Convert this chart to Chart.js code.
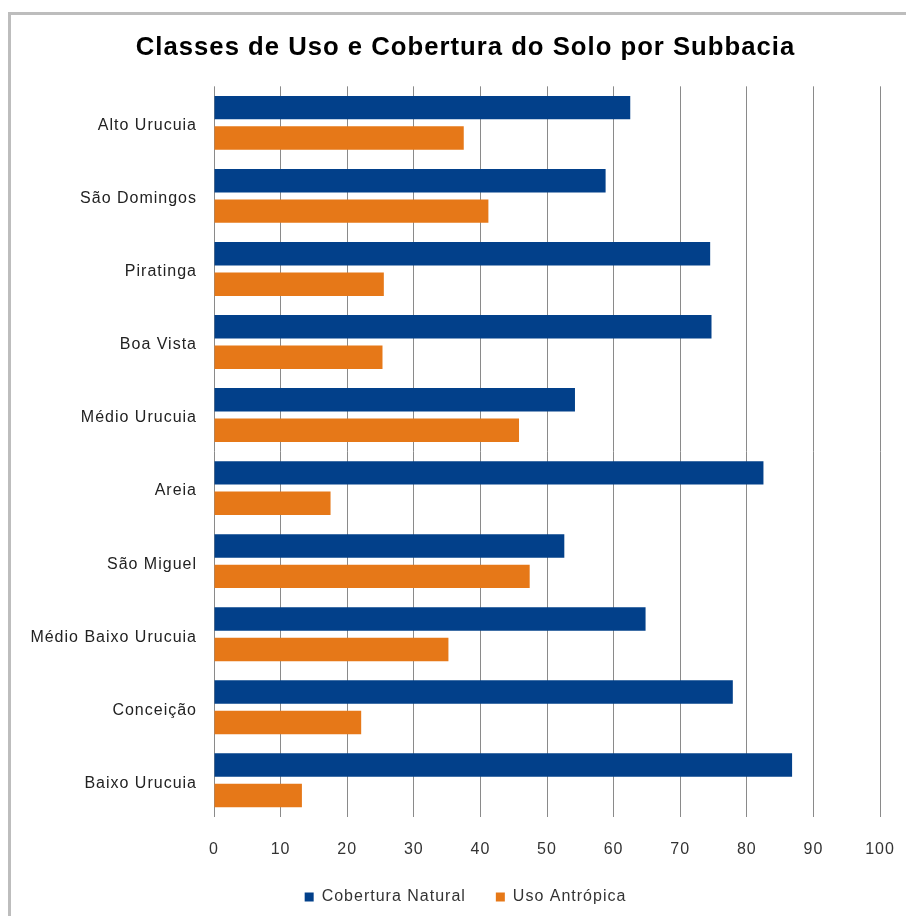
<!DOCTYPE html>
<html>
<head>
<meta charset="utf-8">
<script src="https://cdn.jsdelivr.net/npm/chart.js@4.4.1/dist/chart.umd.min.js"></script>
<style>
  html, body { margin: 0; padding: 0; background: #fff; }
  #wrap { position: relative; width: 906px; height: 916px; overflow: hidden; }
  #frame { position: absolute; left: 8px; top: 12px; width: 1000px; height: 1000px; border: 3px solid #bdbdbd; box-sizing: border-box; }
  #c { position: absolute; left: 0; top: 0; }
</style>
</head>
<body>
<div id="wrap">
  <div id="frame"></div>
  <canvas id="c" width="906" height="916"></canvas>
</div>
<script>
const categories = ["Alto Urucuia", "São Domingos", "Piratinga", "Boa Vista", "Médio Urucuia", "Areia", "São Miguel", "Médio Baixo Urucuia", "Conceição", "Baixo Urucuia"];
const coberturaNatural = [62.5, 58.8, 74.5, 74.7, 54.2, 82.5, 52.6, 64.8, 77.9, 86.8];
const usoAntropica = [37.5, 41.2, 25.5, 25.3, 45.8, 17.5, 47.4, 35.2, 22.1, 13.2];
const xTicks = [0, 10, 20, 30, 40, 50, 60, 70, 80, 90, 100];
const seriesNames = ["Cobertura Natural", "Uso Antrópica"];
const chartTitle = "Classes de Uso e Cobertura do Solo por Subbacia";

const spacing = {
  id: 'spacing',
  beforeUpdate(chart) { chart.ctx.letterSpacing = '1px'; },
  beforeLayout(chart) { chart.ctx.letterSpacing = '1px'; },
  afterLayout(chart) { chart.scales.y.left = 0; },
  beforeDraw(chart) { chart.ctx.letterSpacing = '1px'; }
};

new Chart(document.getElementById('c'), {
  type: 'bar',
  data: {
    labels: categories,
    datasets: [
      { label: seriesNames[0], data: coberturaNatural, backgroundColor: '#02408a', borderWidth: 0 },
      { label: seriesNames[1], data: usoAntropica, backgroundColor: '#e67818', borderWidth: 0 }
    ]
  },
  plugins: [spacing],
  options: {
    indexAxis: 'y',
    responsive: false,
    animation: false,
    devicePixelRatio: 1,
    categoryPercentage: 0.834,
    barPercentage: 0.77,
    layout: { padding: { left: 51, right: 26, top: 0, bottom: 1 } },
    plugins: {
      title: {
        display: true,
        text: chartTitle,
        color: '#000',
        font: { family: '"Liberation Sans", Arial, sans-serif', size: 25.7, weight: 'bold', lineHeight: 1.2 },
        padding: { top: 32, bottom: 23.5 }
      },
      legend: {
        display: true,
        position: 'bottom',
        labels: {
          boxWidth: 9, boxHeight: 9, padding: 30, color: '#333',
          font: { family: '"Liberation Sans", Arial, sans-serif', size: 16 }
        }
      },
      tooltip: { enabled: false }
    },
    scales: {
      x: {
        min: 0, max: 100,
        afterBuildTicks(scale) { scale.ticks = xTicks.map(v => ({ value: v })); },
        grid: { color: '#8a8a8a', lineWidth: 1, drawTicks: true, tickLength: 23, tickColor: 'rgba(0,0,0,0)' },
        border: { display: false },
        ticks: { padding: 0, color: '#333', font: { family: '"Liberation Sans", Arial, sans-serif', size: 16 } }
      },
      y: {
        grid: { display: false, drawTicks: false },
        border: { display: false },
        afterFit(scale) { scale.width = 163; },
        ticks: { padding: 17, labelOffset: 3, color: '#222', font: { family: '"Liberation Sans", Arial, sans-serif', size: 16 } }
      }
    }
  }
});
</script>
</body>
</html>
